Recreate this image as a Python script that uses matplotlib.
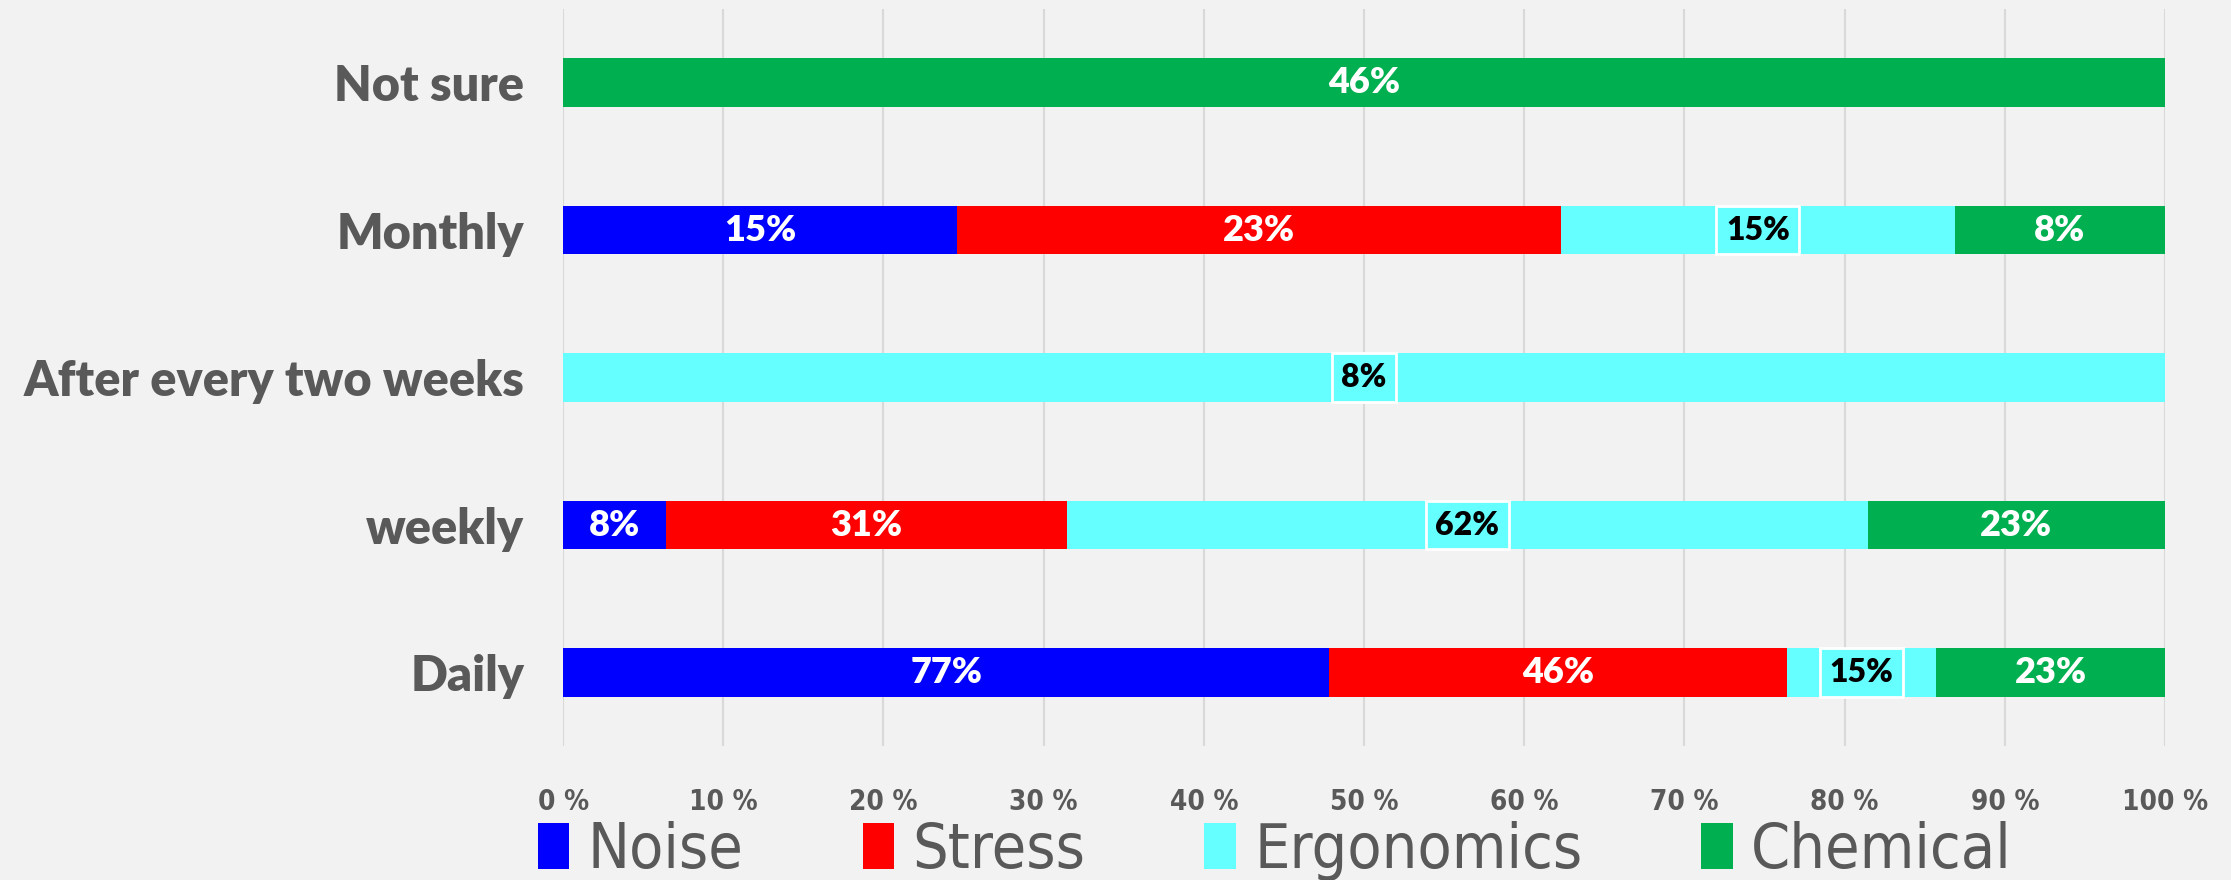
import numpy as np
import matplotlib
matplotlib.use('Agg')
import matplotlib.pyplot as plt
from matplotlib.patches import Patch
from matplotlib.font_manager import FontProperties

categories = ['Daily', 'weekly', 'After every two weeks', 'Monthly', 'Not sure']
series = ['Noise', 'Stress', 'Ergonomics', 'Chemical']
noise = [77, 8, 0, 15, 0]
stress = [46, 31, 0, 23, 0]
ergonomics = [15, 62, 8, 15, 0]
chemical = [23, 23, 0, 8, 46]
colors = ['#0000ff', '#ff0000', '#66ffff', '#00b050']
label_colors = ['white', 'white', 'black', 'white']
ticks = np.arange(0, 101, 10)

BG = '#f2f2f2'
GREY = '#595959'

data = np.array([noise, stress, ergonomics, chemical], dtype=float)
totals = data.sum(axis=0)
shares = data / totals * 100

fig = plt.figure(figsize=(22.31, 8.8), dpi=100, facecolor=BG)
ax = fig.add_axes([0.2524, 0.152, 0.718, 0.838], facecolor=BG)

y = np.arange(len(categories))
left = np.zeros(len(categories))
for i, name in enumerate(series):
    ax.barh(y, shares[i], left=left, height=0.33, color=colors[i], zorder=2)
    for j in range(len(categories)):
        if data[i, j] > 0:
            cx = left[j] + shares[i, j] / 2
            txt = f'{int(data[i, j])}%'
            if name == 'Ergonomics':
                ax.text(cx, y[j], txt, ha='center', va='center', fontsize=23,
                        fontweight='heavy', color='black', family='Lato', zorder=3,
                        bbox=dict(facecolor=colors[i], edgecolor='white', linewidth=2, pad=7))
            else:
                ax.text(cx, y[j], txt, ha='center', va='center', fontsize=26,
                        fontweight='heavy', color=label_colors[i], family='Lato', zorder=3)
    left += shares[i]

tick_font = FontProperties(family='DejaVu Sans', stretch='condensed', weight='bold', size=20)
ax.set_xlim(0, 100)
ax.set_ylim(-0.5, len(categories) - 0.5)
ax.set_xticks(ticks)
ax.set_xticklabels([f'{t} %' for t in ticks], fontproperties=tick_font, color=GREY)
ax.set_yticks(y)
ax.set_yticklabels(categories, fontsize=35, fontweight='heavy', color=GREY, family='Lato')
ax.tick_params(axis='both', length=0)
ax.tick_params(axis='x', pad=30)
ax.tick_params(axis='y', pad=28)
ax.grid(axis='x', color='#d9d9d9', linewidth=1.5, zorder=0)
for s in ax.spines.values():
    s.set_visible(False)

handles = [Patch(facecolor=c, label=n) for c, n in zip(colors, series)]
leg_font = FontProperties(family='DejaVu Sans', stretch='condensed', size=45)
fig.legend(handles=handles, loc='center', bbox_to_anchor=(0.5715, 0.033), ncol=4,
           frameon=False, prop=leg_font,
           labelcolor=GREY, handlelength=0.5, handleheight=0.75, handletextpad=0.3,
           columnspacing=1.9)

fig.savefig('out.png', dpi=100, facecolor=BG)
